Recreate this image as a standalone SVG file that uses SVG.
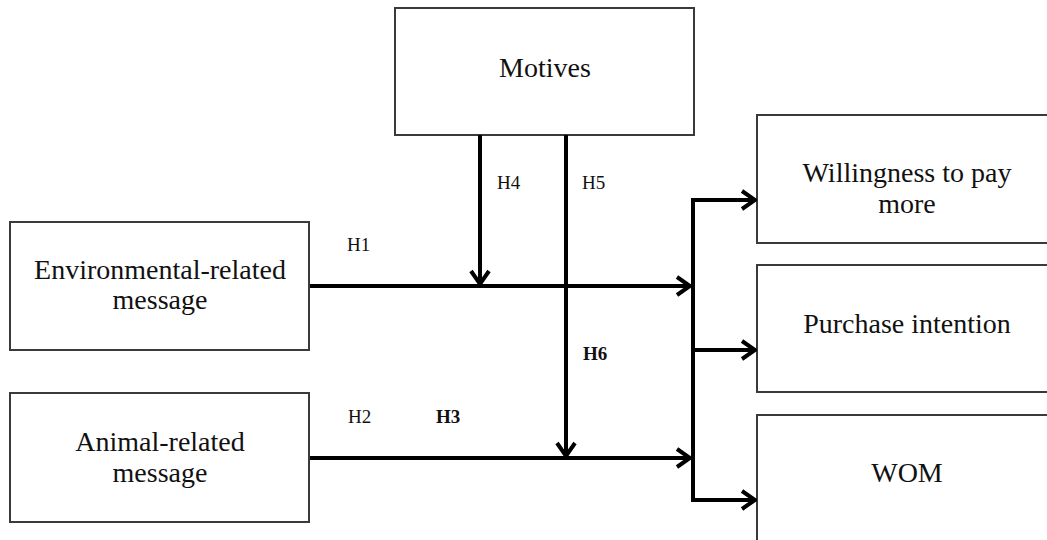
<svg xmlns="http://www.w3.org/2000/svg" width="1047" height="540" viewBox="0 0 1047 540">
<style>
.box{fill:#fff;stroke:#3a3a3a;stroke-width:2}
.t{font-family:"Liberation Serif","Times New Roman",serif;font-size:28px;fill:#111;text-anchor:middle}
.l{font-family:"Liberation Serif","Times New Roman",serif;font-size:19px;fill:#111}
.b{font-weight:bold}
.c{fill:none;stroke:#000;stroke-width:4}
</style>
<defs>
<marker id="ah" markerUnits="userSpaceOnUse" markerWidth="18" markerHeight="24" viewBox="0 0 18 24" refX="16" refY="12" orient="auto">
<path d="M3,3 L16,12 L3,21" fill="none" stroke="#000" stroke-width="4"/>
</marker>
</defs>
<rect width="1047" height="540" fill="#fff"/>
<g id="motives"><rect class="box" x="395" y="8" width="299" height="127"/><text class="t" x="545" y="77">Motives</text></g>
<g id="env"><rect class="box" x="10" y="222" width="299" height="128"/><text class="t" x="160" y="279">Environmental-related</text><text class="t" x="160" y="309">message</text></g>
<g id="animal"><rect class="box" x="10" y="393" width="299" height="129"/><text class="t" x="160" y="451">Animal-related</text><text class="t" x="160" y="482">message</text></g>
<g id="wtp"><rect class="box" x="757" y="115" width="300" height="128"/><text class="t" x="907" y="182">Willingness to pay</text><text class="t" x="907" y="213">more</text></g>
<g id="pi"><rect class="box" x="757" y="265" width="300" height="127"/><text class="t" x="907" y="333">Purchase intention</text></g>
<g id="wom"><rect class="box" x="757" y="415" width="300" height="140"/><text class="t" x="907" y="482">WOM</text></g>
<g id="connectors">
<path class="c" d="M310,286 H690" marker-end="url(#ah)"/>
<path class="c" d="M310,458 H690" marker-end="url(#ah)"/>
<path class="c" d="M480,135 V284" marker-end="url(#ah)"/>
<path class="c" d="M566,135 V456" marker-end="url(#ah)"/>
<path class="c" d="M693,198 V502"/>
<path class="c" d="M691,200 H755" marker-end="url(#ah)"/>
<path class="c" d="M693,350 H755" marker-end="url(#ah)"/>
<path class="c" d="M691,500 H755" marker-end="url(#ah)"/>
</g>
<g id="labels">
<text class="l" x="347" y="251">H1</text>
<text class="l" x="348" y="423">H2</text>
<text class="l b" x="436" y="423">H3</text>
<text class="l" x="497" y="189">H4</text>
<text class="l" x="582" y="189">H5</text>
<text class="l b" x="583" y="360">H6</text>
</g>
</svg>
